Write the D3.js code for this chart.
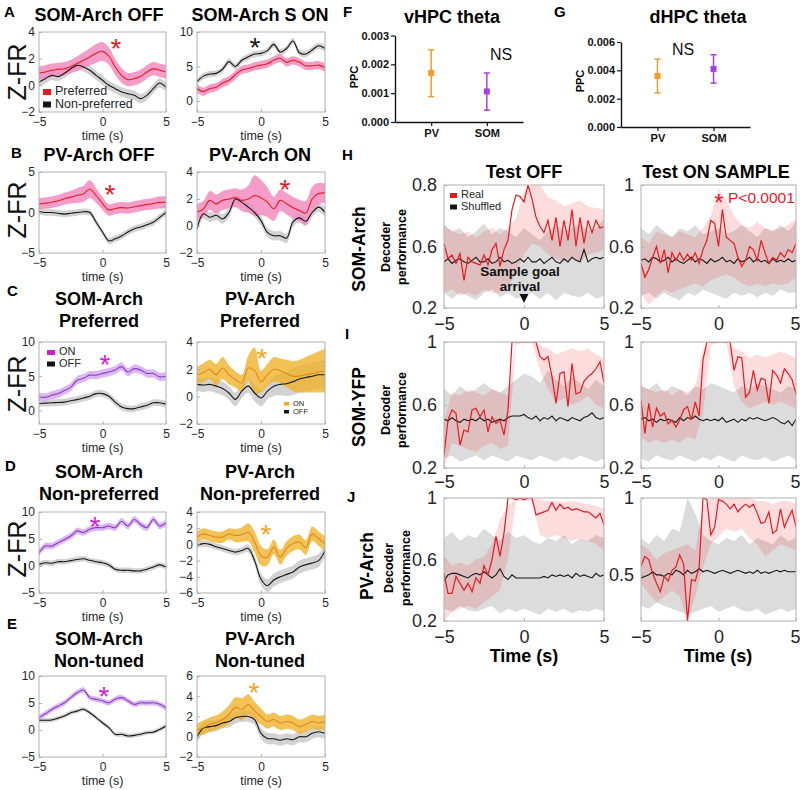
<!DOCTYPE html>
<html><head><meta charset="utf-8">
<script src="https://cdn.jsdelivr.net/npm/d3@7"></script>
<style>body{margin:0;background:#fff} svg{display:block}</style>
</head><body><svg id="fig" width="800" height="790"></svg>
<script>
// ================= DATA =================
const timeTicks = [-5, 0, 5];
// ---- single-neuron Z-FR traces, t = -5..5 s every 0.5 s ----
const somOffPrefMean = [0.92,1.0,1.13,1.2,1.25,1.4,1.63,1.88,2.13,2.4,2.55,2.2,1.38,0.75,0.43,0.5,0.68,1.0,1.25,1.13,1.0];
const somOffPrefSem  = [0.5,0.5,0.5,0.5,0.5,0.5,0.55,0.6,0.65,0.7,0.7,0.65,0.6,0.55,0.5,0.5,0.5,0.5,0.5,0.5,0.5];
const somOffNonMean  = [0.25,0.5,0.75,0.65,0.9,1.25,1.5,1.38,1.13,0.75,0.38,0.0,-0.25,-0.5,-0.63,-0.75,-1.0,-0.75,-0.25,0.18,-0.15];
const somOffNonSem   = 0.35;
const somSOnPrefMean = [1.8,1.35,1.8,2.0,2.6,3.0,3.8,4.5,4.7,5.0,5.2,5.4,5.9,6.2,5.6,5.9,5.6,5.1,5.1,5.2,4.85];
const somSOnPrefSem  = 0.6;
const somSOnNonMean  = [2.8,3.6,3.9,4.0,4.6,5.7,5.0,5.9,6.4,6.8,6.9,7.3,8.2,7.1,7.6,8.7,7.0,6.8,7.4,8.0,7.6];
const somSOnNonSem   = 0.45;
const pvOffPrefMean  = [1.07,1.15,1.27,1.45,1.7,1.9,2.1,2.3,2.9,2.1,1.1,0.3,0.5,0.6,0.55,0.7,0.85,1.0,1.1,1.25,1.25];
const pvOffPrefSem   = [0.7,0.7,0.7,0.7,0.75,0.8,0.9,1.0,1.1,0.9,0.8,0.7,0.7,0.7,0.7,0.7,0.7,0.7,0.7,0.75,0.75];
const pvOffNonMean   = [0.12,0.0,0.0,-0.1,-0.2,-0.1,0.0,0.1,0.0,-1.2,-2.4,-3.5,-3.25,-2.9,-2.4,-2.0,-1.8,-1.5,-1.2,-0.6,0.0];
const pvOffNonSem    = 0.4;
const pvOnPrefMean   = [1.02,1.27,1.9,1.64,1.9,2.0,2.1,1.9,2.0,2.26,2.1,1.77,1.27,1.9,1.65,1.35,1.15,0.95,2.0,2.4,2.45];
const pvOnPrefSem    = [0.6,0.6,0.7,0.7,0.7,0.7,0.7,0.8,1.0,1.5,1.3,1.1,0.9,0.8,0.8,0.8,0.8,0.9,0.9,0.8,0.7];
const pvOnNonMean    = [-0.2,0.9,0.65,0.8,0.52,1.0,2.0,1.77,1.4,1.0,0.4,-0.47,-0.72,-0.72,-0.9,0.3,0.6,0.35,1.0,1.4,1.0];
const pvOnNonSem     = 0.35;
const somPrefOnMean  = [1.96,1.9,2.2,2.45,2.9,3.4,4.4,4.7,5.15,5.15,5.4,5.6,5.9,6.4,5.6,6.1,5.9,5.4,5.4,4.9,5.0];
const somPrefOnSem   = 0.6;
const somPrefOffMean = [1.0,1.05,1.1,1.15,1.2,1.4,1.57,1.8,2.06,2.45,2.45,2.06,1.2,0.5,0.25,0.25,0.5,0.73,1.1,1.1,0.9];
const somPrefOffSem  = 0.5;
const pvPrefOnMean   = [1.6,1.75,2.0,1.6,2.1,1.6,1.26,1.0,2.1,1.9,1.1,1.6,2.0,1.9,1.7,1.5,1.5,1.6,1.7,1.8,1.9];
const pvPrefOnSem    = [0.6,0.7,0.7,0.8,0.8,0.7,0.6,0.6,0.9,1.7,0.8,0.8,0.9,0.9,1.0,1.1,1.2,1.3,1.4,1.5,1.6];
const pvPrefOffMean  = [0.9,0.85,0.9,0.77,0.6,0.27,-0.2,0.4,0.77,0.27,-0.1,0.4,0.77,0.9,0.95,1.1,1.3,1.4,1.5,1.6,1.6];
const pvPrefOffSem   = [0.5,0.5,0.5,0.5,0.5,0.5,0.5,0.5,0.5,0.6,0.6,0.6,0.7,0.8,0.9,1.0,1.0,1.0,1.0,1.0,1.0];
const somNonOnMean   = [2.46,3.7,3.7,4.3,4.9,5.55,6.5,6.2,6.8,7.1,7.1,7.4,7.1,8.3,7.4,8.6,7.7,7.1,8.6,7.4,8.0];
const somNonOnSem    = 0.6;
const somNonOffMean  = [0.3,0.6,0.5,0.8,0.8,1.0,1.2,1.35,1.05,0.8,0.6,0.2,-0.6,-0.8,-0.8,-0.9,-0.9,-0.6,-0.2,0.2,-0.2];
const somNonOffSem   = 0.5;
const pvNonOnMean    = [0.9,1.3,1.1,0.9,0.9,1.3,1.1,1.2,1.5,0.3,-1.4,-1.6,-0.3,-1.6,-0.5,0.1,0.3,-0.4,1.3,0.7,0.1];
const pvNonOnSem     = [0.7,0.7,0.7,0.7,0.7,0.7,0.8,0.9,1.1,1.3,1.2,1.0,0.9,0.9,0.9,0.9,0.9,0.9,0.9,0.9,0.9];
const pvNonOffMean   = [-0.1,0.1,0.0,-0.3,-0.5,-0.75,-0.95,-0.75,-0.5,-2.0,-4.3,-5.1,-4.4,-4.0,-3.7,-3.4,-2.8,-2.5,-2.3,-2.0,-0.8];
const pvNonOffSem    = [0.4,0.4,0.4,0.4,0.4,0.4,0.4,0.4,0.5,0.6,0.7,0.8,0.8,0.8,0.8,0.8,0.8,0.8,0.8,0.8,0.8];
const somUnOnMean    = [2.3,3.0,3.8,4.4,5.05,6.0,6.9,7.4,6.0,5.7,5.4,5.05,5.7,6.0,5.4,4.75,5.05,5.0,5.05,4.75,4.1];
const somUnOnSem     = 0.5;
const somUnOffMean   = [1.8,1.8,1.85,2.2,2.6,3.2,3.5,3.85,3.2,2.3,1.35,0.43,-0.8,-0.8,-1.1,-1.0,-0.8,-0.5,-0.4,0.1,0.74];
const somUnOffSem    = 0.4;
const pvUnOnMean     = [0.7,0.9,1.2,1.4,1.7,2.2,2.9,2.7,3.2,2.55,2.0,1.5,1.7,1.36,1.5,1.36,1.0,1.2,1.5,1.36,1.5];
const pvUnOnSem      = [0.6,0.7,0.7,0.7,0.8,0.9,1.0,1.1,1.0,0.9,0.8,0.7,0.7,0.7,0.7,0.7,0.7,0.7,0.7,0.7,0.7];
const pvUnOffMean    = [0.0,0.85,1.0,1.1,1.36,1.5,1.87,2.0,2.0,1.7,0.34,-0.17,-0.2,-0.34,-0.2,-0.3,0.0,0.0,0.34,0.5,0.34];
const pvUnOffSem     = 0.55;

// ---- PPC (F, G) ----
const ppcGroups = ["PV", "SOM"];
const vhpcMean = [0.0017, 0.00106], vhpcLow = [0.00088, 0.00041], vhpcHigh = [0.0025, 0.0017];
const vhpcTicks = [0, 0.001, 0.002, 0.003];
const dhpcMean = [0.0036, 0.0041], dhpcLow = [0.0024, 0.0031], dhpcHigh = [0.0048, 0.0051];
const dhpcTicks = [0, 0.002, 0.004, 0.006];

// ---- decoder performance: lines t=-5..5 every 0.25 s, bands every 0.5 s ----
const hOffReal = [0.62,0.52,0.545,0.49,0.555,0.38,0.53,0.5,0.49,0.48,0.545,0.48,0.58,0.62,0.47,0.58,0.64,0.84,0.935,0.925,0.89,1.0,0.91,0.79,0.73,0.69,0.77,0.64,0.79,0.6,0.77,0.64,0.84,0.6,0.79,0.62,0.77,0.69,0.77,0.72,0.73];
const hOffShuf = [0.50,0.52,0.49,0.51,0.52,0.50,0.49,0.51,0.53,0.50,0.50,0.52,0.49,0.50,0.53,0.50,0.51,0.49,0.50,0.52,0.50,0.53,0.50,0.50,0.52,0.49,0.51,0.53,0.50,0.49,0.52,0.50,0.53,0.51,0.50,0.58,0.50,0.52,0.53,0.52,0.53];
const hOffGrayHi = [0.74,0.70,0.72,0.66,0.70,0.75,0.68,0.72,0.70,0.66,0.72,0.68,0.64,0.70,0.74,0.70,0.72,0.75,0.70,0.72,0.78];
const hOffGrayLo = [0.30,0.26,0.30,0.28,0.25,0.30,0.32,0.27,0.30,0.26,0.28,0.30,0.26,0.30,0.25,0.30,0.28,0.27,0.30,0.26,0.28];
const hOffPinkHi = [0.74,0.70,0.68,0.70,0.66,0.70,0.72,0.68,0.72,0.78,0.96,1.0,1.0,0.92,0.90,0.86,0.88,0.90,0.86,0.85,0.84];
const hOffPinkLo = [0.30,0.32,0.28,0.30,0.28,0.32,0.30,0.30,0.34,0.42,0.55,0.62,0.60,0.55,0.52,0.50,0.52,0.50,0.55,0.56,0.58];

const hOnReal = [0.49,0.40,0.45,0.53,0.60,0.49,0.58,0.43,0.56,0.51,0.56,0.51,0.55,0.51,0.56,0.49,0.58,0.64,0.77,0.75,0.60,0.84,0.66,0.64,0.62,0.53,0.47,0.51,0.60,0.58,0.51,0.64,0.56,0.49,0.53,0.51,0.56,0.53,0.58,0.56,0.62];
const hOnShuf = [0.51,0.52,0.50,0.53,0.52,0.50,0.51,0.53,0.50,0.52,0.50,0.49,0.51,0.53,0.50,0.52,0.51,0.49,0.52,0.50,0.51,0.53,0.50,0.51,0.49,0.52,0.50,0.51,0.53,0.50,0.52,0.50,0.51,0.49,0.52,0.50,0.51,0.50,0.52,0.50,0.51];
const hOnGrayHi = [0.72,0.68,0.74,0.70,0.66,0.72,0.70,0.74,0.68,0.70,0.72,0.68,0.70,0.74,0.70,0.66,0.72,0.70,0.74,0.70,0.76];
const hOnGrayLo = [0.28,0.30,0.26,0.30,0.27,0.25,0.30,0.28,0.32,0.30,0.28,0.26,0.30,0.28,0.30,0.27,0.30,0.28,0.32,0.30,0.30];
const hOnPinkHi = [0.66,0.62,0.70,0.68,0.66,0.70,0.68,0.66,0.72,0.80,0.98,0.90,0.80,0.74,0.72,0.76,0.72,0.70,0.72,0.74,0.78];
const hOnPinkLo = [0.30,0.22,0.28,0.32,0.30,0.32,0.34,0.36,0.34,0.38,0.40,0.42,0.40,0.36,0.34,0.36,0.34,0.36,0.35,0.36,0.40];

const iOffReal = [0.28,0.505,0.568,0.547,0.346,0.441,0.43,0.568,0.579,0.526,0.568,0.43,0.526,0.484,0.505,0.41,0.568,1,1,1,1,1,1,1,0.907,0.886,0.907,0.78,0.61,0.80,0.81,0.59,0.865,0.67,0.68,0.75,0.78,0.80,0.83,0.875,0.74];
const iOffShuf = [0.51,0.50,0.52,0.50,0.49,0.51,0.50,0.51,0.50,0.52,0.50,0.51,0.49,0.50,0.51,0.50,0.52,0.53,0.53,0.53,0.54,0.52,0.51,0.53,0.50,0.52,0.51,0.53,0.50,0.52,0.51,0.50,0.52,0.51,0.50,0.52,0.53,0.55,0.52,0.51,0.52];
const iOffGrayHi = [0.70,0.66,0.72,0.68,0.70,0.74,0.70,0.68,0.72,0.76,0.80,0.78,0.74,0.82,0.76,0.72,0.78,0.74,0.70,0.76,0.72];
const iOffGrayLo = [0.26,0.28,0.24,0.26,0.28,0.25,0.28,0.26,0.24,0.28,0.26,0.25,0.28,0.26,0.24,0.27,0.25,0.28,0.26,0.24,0.26];
const iOffPinkHi = [0.50,0.68,0.66,0.70,0.68,0.66,0.70,0.68,0.66,1.0,1.0,1.0,0.98,0.96,0.92,0.94,0.96,0.94,0.96,0.92,0.90];
const iOffPinkLo = [0.20,0.36,0.34,0.32,0.30,0.34,0.36,0.32,0.34,0.98,1.0,1.0,0.82,0.70,0.62,0.64,0.60,0.62,0.66,0.60,0.58];

const iOnReal = [0.63,0.42,0.61,0.46,0.58,0.53,0.55,0.48,0.505,0.46,0.505,0.57,0.59,0.505,0.62,0.53,0.886,1,1,1,1,1,1,1,0.82,0.907,0.9,0.65,0.68,0.82,0.695,0.77,0.76,0.61,0.82,0.79,0.74,0.83,0.8,0.76,0.67];
const iOnShuf = [0.51,0.52,0.50,0.51,0.49,0.51,0.50,0.51,0.50,0.49,0.52,0.50,0.52,0.51,0.53,0.51,0.50,0.51,0.50,0.51,0.50,0.52,0.49,0.50,0.51,0.49,0.51,0.50,0.52,0.51,0.52,0.51,0.50,0.51,0.52,0.51,0.49,0.48,0.50,0.47,0.51];
const iOnGrayHi = [0.72,0.70,0.74,0.68,0.72,0.70,0.66,0.72,0.70,0.74,0.72,0.70,0.68,0.72,0.70,0.74,0.72,0.70,0.68,0.72,0.70];
const iOnGrayLo = [0.26,0.24,0.28,0.26,0.25,0.28,0.26,0.24,0.27,0.25,0.28,0.26,0.24,0.28,0.26,0.25,0.27,0.24,0.26,0.28,0.25];
const iOnPinkHi = [0.72,0.70,0.68,0.70,0.66,0.70,0.68,0.72,0.95,1.0,1.0,1.0,0.96,0.94,0.90,0.92,0.90,0.92,0.94,0.92,0.90];
const iOnPinkLo = [0.40,0.36,0.38,0.36,0.38,0.36,0.40,0.38,0.55,0.98,1.0,1.0,0.72,0.62,0.58,0.60,0.62,0.60,0.62,0.60,0.58];

const jOffReal = [0.51,0.38,0.38,0.49,0.445,0.40,0.445,0.39,0.48,0.445,0.56,0.5,0.6,0.75,0.62,0.77,1.0,1,0.99,1,0.99,1,1,0.89,0.9,0.91,0.92,0.97,0.92,0.96,0.93,0.94,0.92,0.93,0.92,0.91,0.91,0.89,0.87,0.9,0.825];
const jOffShuf = [0.46,0.50,0.51,0.51,0.50,0.49,0.48,0.50,0.51,0.50,0.52,0.50,0.48,0.50,0.54,0.49,0.47,0.50,0.48,0.48,0.48,0.48,0.48,0.48,0.48,0.49,0.48,0.50,0.49,0.50,0.49,0.50,0.48,0.51,0.49,0.50,0.49,0.48,0.51,0.49,0.50];
const jOffGrayHi = [0.74,0.78,0.72,0.76,0.74,0.80,0.76,0.72,0.78,0.74,0.76,0.72,0.70,0.74,0.72,0.76,0.70,0.74,0.72,0.76,0.74];
const jOffGrayLo = [0.28,0.26,0.30,0.27,0.26,0.28,0.30,0.25,0.28,0.26,0.28,0.26,0.24,0.28,0.26,0.28,0.25,0.27,0.26,0.28,0.26];
const jOffPinkHi = [0.62,0.56,0.58,0.56,0.60,0.62,0.70,0.86,0.95,1.0,1.0,1.0,0.99,0.98,0.98,0.97,0.98,0.97,0.96,0.95,0.93];
const jOffPinkLo = [0.20,0.26,0.28,0.30,0.28,0.32,0.36,0.40,0.60,0.98,0.98,0.98,0.76,0.74,0.76,0.74,0.72,0.74,0.72,0.70,0.66];

const jOnReal = [0.56,0.62,0.6,0.51,0.445,0.39,0.49,0.46,0.53,0.55,0.63,0.57,0.2,0.47,0.46,0.55,1.0,0.99,0.76,0.81,0.99,0.98,0.96,0.93,0.96,0.91,0.94,0.96,0.94,0.96,0.9,0.835,0.845,0.91,0.77,0.79,0.93,0.81,0.87,0.92,0.81];
const jOnShuf = [0.48,0.49,0.50,0.52,0.50,0.50,0.49,0.51,0.50,0.53,0.52,0.50,0.53,0.51,0.52,0.54,0.52,0.53,0.52,0.51,0.52,0.53,0.52,0.51,0.52,0.53,0.52,0.51,0.52,0.51,0.53,0.51,0.52,0.51,0.52,0.53,0.52,0.53,0.52,0.52,0.52];
const jOnGrayHi = [0.74,0.70,0.76,0.72,0.80,0.78,1.0,0.90,0.76,0.72,0.70,0.74,0.72,0.76,0.70,0.74,0.72,0.70,0.76,0.72,0.74];
const jOnGrayLo = [0.30,0.28,0.32,0.30,0.28,0.26,0.24,0.26,0.28,0.30,0.26,0.28,0.30,0.27,0.26,0.28,0.24,0.26,0.28,0.26,0.28];
const jOnPinkHi = [0.70,0.66,0.60,0.64,0.66,0.68,0.70,0.66,0.95,1.0,1.0,1.0,1.0,1.0,1.0,0.98,0.98,0.96,0.98,0.98,0.96];
const jOnPinkLo = [0.44,0.38,0.32,0.36,0.40,0.36,0.20,0.36,0.55,0.70,0.75,0.80,0.78,0.80,0.74,0.70,0.62,0.66,0.70,0.68,0.66];

const decTicksStd = [0.2, 0.6, 1];
const decLabelsStd = ["0.2", "0.6", "1"];
const decLabelsHOff = ["0.2", "0.6", "0.8"];
const decTicksJOn = [0.5, 1];
const decLabelsJOn = ["0.5", "1"];

// ================= STYLE / LAYOUT =================
const FONT = '"Liberation Sans", Arial, Helvetica, sans-serif';
const RED = "#e8191f", PINK = "#f38cbf", BLACK = "#161616", GRAYB = "#cdcdcd";
const PURPLE = "#8c3bc2", LAV = "#d6aff0", ORANGE = "#e0891c", GOLD = "#f0b32c";
const MAGENTA = "#d21ed2", ORANGE_AST = "#f6a21e";
const FRAME = "#b0b0b0", TXT = "#262626";
const kinds = {
  k:      {line: BLACK,  band: GRAYB, op: 0.9},
  red:    {line: RED,    band: PINK,  op: 0.85},
  purple: {line: PURPLE, band: LAV,   op: 0.9},
  orange: {line: ORANGE, band: GOLD,  op: 0.8}
};
const colX = {L: [39, 166], R: [197, 325]};
const rowY = {A: [32, 112], B: [172, 253], C: [342, 424], D: [512, 593], E: [676, 757]};
const titleBase = {A: [21], B: [161], C: [305, 327], D: [478, 500], E: [645, 667]};
const titleCx = {L: 99, R: 260};

const svg = d3.select("#fig");
let clipN = 0;
function clip(x0, y0, x1, y1) {
  const id = "cl" + (clipN++);
  svg.append("clipPath").attr("id", id).append("rect")
    .attr("x", x0).attr("y", y0).attr("width", x1 - x0).attr("height", y1 - y0);
  return id;
}
function txt(x, y, s, o = {}) {
  const t = svg.append("text").attr("x", x).attr("y", y).text(s)
    .style("font-family", FONT).style("font-size", (o.size || 12) + "px")
    .style("font-weight", o.weight || "normal")
    .attr("fill", o.fill || "#000").attr("text-anchor", o.anchor || "start");
  if (o.rotate) t.attr("transform", `rotate(-90,${x},${y})`);
  return t;
}
function grid(n) { return d3.range(n).map(i => -5 + 10 * i / (n - 1)); }
function styleAxis(g, size, weight) {
  g.selectAll("text").style("font-family", FONT).style("font-size", size + "px")
    .style("font-weight", weight || "normal").attr("fill", TXT);
}

// ================= NEURON PANELS =================
function neuronPanel(p) {
  const [x0, x1] = colX[p.col], [y0, y1] = rowY[p.row];
  const x = d3.scaleLinear().domain([-5, 5]).range([x0, x1]);
  const y = d3.scaleLinear().domain(p.yDomain).range([y1, y0]);
  const g = svg.append("g").attr("clip-path", `url(#${clip(x0, y0, x1, y1)})`);
  const curve = d3.curveCatmullRom.alpha(0.5);
  p.traces.forEach(tr => {
    const ts = grid(tr.mean.length);
    const s = i => Array.isArray(tr.sem) ? tr.sem[i] : tr.sem;
    const pts = tr.mean.map((m, i) => ({t: ts[i], lo: m - s(i), hi: m + s(i)}));
    g.append("path").datum(pts)
      .attr("d", d3.area().x(d => x(d.t)).y0(d => y(d.lo)).y1(d => y(d.hi)).curve(curve))
      .attr("fill", kinds[tr.kind].band).attr("fill-opacity", kinds[tr.kind].op);
  });
  p.traces.forEach(tr => {
    const ts = grid(tr.mean.length);
    g.append("path").datum(tr.mean.map((m, i) => ({t: ts[i], m})))
      .attr("d", d3.line().x(d => x(d.t)).y(d => y(d.m)).curve(curve))
      .attr("fill", "none").attr("stroke", kinds[tr.kind].line).attr("stroke-width", 1.1);
  });
  svg.append("rect").attr("x", x0).attr("y", y0).attr("width", x1 - x0).attr("height", y1 - y0)
    .attr("fill", "none").attr("stroke", FRAME).attr("stroke-width", 1);
  const ya = svg.append("g").attr("transform", `translate(${x0},0)`)
    .call(d3.axisLeft(y).tickValues(p.yTicks).tickSizeInner(-3).tickSizeOuter(0).tickPadding(4).tickFormat(d3.format("d")));
  const xa = svg.append("g").attr("transform", `translate(0,${y1})`)
    .call(d3.axisBottom(x).tickValues(timeTicks).tickSizeInner(-3).tickSizeOuter(0).tickPadding(5).tickFormat(d3.format("d")));
  [ya, xa].forEach(a => { a.select(".domain").remove(); a.selectAll("line").attr("stroke", FRAME); styleAxis(a, 12); });
  txt((x0 + x1) / 2, y1 + 28, "time (s)", {size: 12.5, anchor: "middle", fill: TXT});
  p.title.forEach((s, i) => txt(titleCx[p.col], titleBase[p.row][i], s, {size: 18, weight: "bold", anchor: "middle"}));
  if (p.star) txt(p.star.x, p.star.y + 16, "*", {size: 28, anchor: "middle", fill: p.star.color});
}

const neuronPanels = [
  {col: "L", row: "A", title: ["SOM-Arch OFF"], yDomain: [-2, 4], yTicks: [-2, 0, 2, 4],
   traces: [{mean: somOffNonMean, sem: somOffNonSem, kind: "k"}, {mean: somOffPrefMean, sem: somOffPrefSem, kind: "red"}],
   star: {x: 116, y: 42, color: RED}},
  {col: "R", row: "A", title: ["SOM-Arch S ON"], yDomain: [-1.6, 10], yTicks: [0, 5, 10],
   traces: [{mean: somSOnNonMean, sem: somSOnNonSem, kind: "k"}, {mean: somSOnPrefMean, sem: somSOnPrefSem, kind: "red"}],
   star: {x: 255, y: 41, color: BLACK}},
  {col: "L", row: "B", title: ["PV-Arch OFF"], yDomain: [-5, 5], yTicks: [-5, 0, 5],
   traces: [{mean: pvOffNonMean, sem: pvOffNonSem, kind: "k"}, {mean: pvOffPrefMean, sem: pvOffPrefSem, kind: "red"}],
   star: {x: 110, y: 188, color: RED}},
  {col: "R", row: "B", title: ["PV-Arch ON"], yDomain: [-2, 4], yTicks: [-2, 0, 2, 4],
   traces: [{mean: pvOnNonMean, sem: pvOnNonSem, kind: "k"}, {mean: pvOnPrefMean, sem: pvOnPrefSem, kind: "red"}],
   star: {x: 285, y: 183, color: RED}},
  {col: "L", row: "C", title: ["SOM-Arch", "Preferred"], yDomain: [-2, 10], yTicks: [0, 5, 10],
   traces: [{mean: somPrefOffMean, sem: somPrefOffSem, kind: "k"}, {mean: somPrefOnMean, sem: somPrefOnSem, kind: "purple"}],
   star: {x: 105, y: 358, color: MAGENTA}},
  {col: "R", row: "C", title: ["PV-Arch", "Preferred"], yDomain: [-2, 4], yTicks: [-2, 0, 2, 4],
   traces: [{mean: pvPrefOffMean, sem: pvPrefOffSem, kind: "k"}, {mean: pvPrefOnMean, sem: pvPrefOnSem, kind: "orange"}],
   star: {x: 262, y: 352, color: ORANGE_AST}},
  {col: "L", row: "D", title: ["SOM-Arch", "Non-preferred"], yDomain: [-5, 10], yTicks: [-5, 0, 5, 10],
   traces: [{mean: somNonOffMean, sem: somNonOffSem, kind: "k"}, {mean: somNonOnMean, sem: somNonOnSem, kind: "purple"}],
   star: {x: 95, y: 520, color: MAGENTA}},
  {col: "R", row: "D", title: ["PV-Arch", "Non-preferred"], yDomain: [-6, 4], yTicks: [-6, -4, -2, 0, 2, 4],
   traces: [{mean: pvNonOffMean, sem: pvNonOffSem, kind: "k"}, {mean: pvNonOnMean, sem: pvNonOnSem, kind: "orange"}],
   star: {x: 266, y: 528, color: ORANGE_AST}},
  {col: "L", row: "E", title: ["SOM-Arch", "Non-tuned"], yDomain: [-5, 10], yTicks: [-5, 0, 5, 10],
   traces: [{mean: somUnOffMean, sem: somUnOffSem, kind: "k"}, {mean: somUnOnMean, sem: somUnOnSem, kind: "purple"}],
   star: {x: 104, y: 690, color: MAGENTA}},
  {col: "R", row: "E", title: ["PV-Arch", "Non-tuned"], yDomain: [-2, 6], yTicks: [-2, 0, 2, 4, 6],
   traces: [{mean: pvUnOffMean, sem: pvUnOffSem, kind: "k"}, {mean: pvUnOnMean, sem: pvUnOnSem, kind: "orange"}],
   star: {x: 254, y: 686, color: ORANGE_AST}}
];
neuronPanels.forEach(neuronPanel);

// legends in A and C
function legendItem(x, y, color, label, size, w, h) {
  svg.append("rect").attr("x", x).attr("y", y - h).attr("width", w).attr("height", h).attr("fill", color);
  txt(x + w + 4, y, label, {size: size, fill: TXT});
}
legendItem(43, 95, RED, "Preferred", 12.5, 8, 6);
legendItem(43, 107.5, BLACK, "Non-preferred", 12.5, 8, 6);
legendItem(47, 355, MAGENTA, "ON", 11, 8, 5);
legendItem(47, 366.5, BLACK, "OFF", 11, 8, 5);
legendItem(284, 405.5, "#f5a623", "ON", 7.5, 5, 3.5);
legendItem(284, 413.5, BLACK, "OFF", 7.5, 5, 3.5);

// Z-FR labels and letters
[72, 210, 384, 549].forEach(cy => txt(26, cy, "Z-FR", {size: 25, anchor: "middle", rotate: true, fill: "#111"}));
[["A", 4, 17], ["B", 11, 158], ["C", 7, 296], ["D", 5, 471], ["E", 7, 629],
 ["F", 343, 17], ["G", 554, 17], ["H", 342, 160], ["I", 345, 339], ["J", 347, 502]]
  .forEach(([s, x, y]) => txt(x, y, s, {size: 15, weight: "bold"}));

// ================= PPC PANELS F, G =================
function ppcPanel(p) {
  const x = d3.scalePoint().domain(ppcGroups).range([p.x0, p.x1]).padding(0.65);
  const y = d3.scaleLinear().domain([0, p.ymax]).range([p.y0, p.ytop]);
  const ya = svg.append("g").attr("transform", `translate(${p.x0},0)`)
    .call(d3.axisLeft(y).tickValues(p.ticks).tickFormat(d3.format(".3f")).tickSize(4).tickSizeOuter(0).tickPadding(2));
  const xa = svg.append("g").attr("transform", `translate(0,${p.y0})`)
    .call(d3.axisBottom(x).tickSize(4).tickSizeOuter(0).tickPadding(3));
  [ya, xa].forEach(a => {
    a.selectAll(".domain").attr("stroke", "#111").attr("stroke-width", 1.4);
    a.selectAll("line").attr("stroke", "#111").attr("stroke-width", 1.2);
    styleAxis(a, 11, "bold");
    a.selectAll("text").attr("fill", "#111");
  });
  const colors = ["#f39a2b", "#a83ee0"];
  ppcGroups.forEach((gname, i) => {
    const cx = x(gname);
    svg.append("line").attr("x1", cx).attr("x2", cx).attr("y1", y(p.low[i])).attr("y2", y(p.high[i]))
      .attr("stroke", colors[i]).attr("stroke-width", 1.5);
    [p.low[i], p.high[i]].forEach(v => svg.append("line").attr("x1", cx - 3).attr("x2", cx + 3)
      .attr("y1", y(v)).attr("y2", y(v)).attr("stroke", colors[i]).attr("stroke-width", 1.5));
    svg.append("rect").attr("x", cx - 3).attr("y", y(p.mean[i]) - 3).attr("width", 6).attr("height", 6).attr("fill", colors[i]);
  });
  txt(p.titleX, 23, p.title, {size: 18, weight: "bold", anchor: "middle"});
  txt(p.ppcX, p.ppcY, "PPC", {size: 11, weight: "bold", anchor: "middle", rotate: true});
  txt(p.nsX, p.nsY, "NS", {size: 16, anchor: "middle", fill: "#111"});
}
ppcPanel({x0: 395, x1: 523, y0: 122, ytop: 35.5, ymax: 0.003, ticks: vhpcTicks, mean: vhpcMean, low: vhpcLow, high: vhpcHigh,
  title: "vHPC theta", titleX: 452, ppcX: 358, ppcY: 77, nsX: 501, nsY: 60});
ppcPanel({x0: 621, x1: 750, y0: 127, ytop: 42, ymax: 0.006, ticks: dhpcTicks, mean: dhpcMean, low: dhpcLow, high: dhpcHigh,
  title: "dHPC theta", titleX: 698, ppcX: 584, ppcY: 81, nsX: 683, nsY: 55});

// ================= DECODER PANELS H, I, J =================
const decCols = {L: [444, 604], R: [641, 796]};
const decRows = {H: [185, 308], I: [342, 468], J: [498, 621]};
function decoderPanel(p) {
  const [x0, x1] = decCols[p.col], [y0, y1] = decRows[p.row];
  const x = d3.scaleLinear().domain([-5, 5]).range([x0, x1]);
  const y = d3.scaleLinear().domain([0.2, 1]).range([y1, y0]);
  const g = svg.append("g").attr("clip-path", `url(#${clip(x0, y0, x1, y1)})`);
  const bandPts = (lo, hi) => { const ts = grid(lo.length); return lo.map((l, i) => ({t: ts[i], lo: l, hi: hi[i]})); };
  const area = d3.area().x(d => x(d.t)).y0(d => y(d.lo)).y1(d => y(d.hi));
  g.append("path").datum(bandPts(p.grayLo, p.grayHi)).attr("d", area).attr("fill", "#dcdcdc");
  g.append("path").datum(bandPts(p.pinkLo, p.pinkHi)).attr("d", area).attr("fill", "rgb(235,40,40)").attr("fill-opacity", 0.16);
  const line = d3.line().x(d => x(d.t)).y(d => y(d.v));
  const linePts = arr => { const ts = grid(arr.length); return arr.map((v, i) => ({t: ts[i], v})); };
  g.append("path").datum(linePts(p.shuf)).attr("d", line).attr("fill", "none").attr("stroke", BLACK).attr("stroke-width", 1.1);
  g.append("path").datum(linePts(p.real)).attr("d", line).attr("fill", "none").attr("stroke", RED).attr("stroke-width", 1.2);
  svg.append("rect").attr("x", x0).attr("y", y0).attr("width", x1 - x0).attr("height", y1 - y0)
    .attr("fill", "none").attr("stroke", FRAME).attr("stroke-width", 1);
  const ya = svg.append("g").attr("transform", `translate(${x0},0)`)
    .call(d3.axisLeft(y).tickValues(p.ticks).tickSizeInner(-3).tickSizeOuter(0).tickPadding(7).tickFormat((d, i) => p.labels[i]));
  const xa = svg.append("g").attr("transform", `translate(0,${y1})`)
    .call(d3.axisBottom(x).tickValues(timeTicks).tickSizeInner(-3).tickSizeOuter(0).tickPadding(p.row === "I" ? 7 : 9).tickFormat(d3.format("d")));
  [ya, xa].forEach(a => { a.select(".domain").remove(); a.selectAll("line").attr("stroke", FRAME); styleAxis(a, 18); });
  if (p.col === "R") {
    // keep the last tick label inside the page, as in the reference it sits at the right edge
    xa.selectAll(".tick").filter(d => d === 5).select("text").attr("text-anchor", "end").attr("x", 4);
  }
}
const decoderPanels = [
  {col: "L", row: "H", real: hOffReal, shuf: hOffShuf, grayLo: hOffGrayLo, grayHi: hOffGrayHi, pinkLo: hOffPinkLo, pinkHi: hOffPinkHi, ticks: decTicksStd, labels: decLabelsHOff},
  {col: "R", row: "H", real: hOnReal, shuf: hOnShuf, grayLo: hOnGrayLo, grayHi: hOnGrayHi, pinkLo: hOnPinkLo, pinkHi: hOnPinkHi, ticks: decTicksStd, labels: decLabelsStd},
  {col: "L", row: "I", real: iOffReal, shuf: iOffShuf, grayLo: iOffGrayLo, grayHi: iOffGrayHi, pinkLo: iOffPinkLo, pinkHi: iOffPinkHi, ticks: decTicksStd, labels: decLabelsStd},
  {col: "R", row: "I", real: iOnReal, shuf: iOnShuf, grayLo: iOnGrayLo, grayHi: iOnGrayHi, pinkLo: iOnPinkLo, pinkHi: iOnPinkHi, ticks: decTicksStd, labels: decLabelsStd},
  {col: "L", row: "J", real: jOffReal, shuf: jOffShuf, grayLo: jOffGrayLo, grayHi: jOffGrayHi, pinkLo: jOffPinkLo, pinkHi: jOffPinkHi, ticks: decTicksStd, labels: decLabelsStd},
  {col: "R", row: "J", real: jOnReal, shuf: jOnShuf, grayLo: jOnGrayLo, grayHi: jOnGrayHi, pinkLo: jOnPinkLo, pinkHi: jOnPinkHi, ticks: decTicksJOn, labels: decLabelsJOn}
];
decoderPanels.forEach(decoderPanel);

// decoder titles and labels
txt(524, 178, "Test OFF", {size: 18, weight: "bold", anchor: "middle"});
txt(716, 178, "Test ON SAMPLE", {size: 18, weight: "bold", anchor: "middle"});
[["SOM-Arch", 365, 249, 390, 406, 247], ["SOM-YFP", 365, 407, 390, 406, 410], ["PV-Arch", 373, 566, 393, 410, 568]]
  .forEach(([name, nx, ny, dx, px, cy]) => {
    txt(nx, ny, name, {size: 17.5, weight: "bold", anchor: "middle", rotate: true});
    txt(dx, cy, "Decoder", {size: 12.5, weight: "bold", anchor: "middle", rotate: true});
    txt(px, cy, "performance", {size: 12.5, weight: "bold", anchor: "middle", rotate: true});
  });
legendItem(450, 198, RED, "Real", 11, 7, 5);
legendItem(450, 209.5, BLACK, "Shuffled", 11, 7, 5);
txt(520, 276, "Sample goal", {size: 13.5, weight: "bold", anchor: "middle", fill: "#111"});
txt(520, 291, "arrival", {size: 13.5, weight: "bold", anchor: "middle", fill: "#111"});
{
  const xs = d3.scaleLinear().domain([-5, 5]).range(decCols.L);
  const cx = xs(0);
  svg.append("path").attr("d", `M${cx - 4.5},294 L${cx + 4.5},294 L${cx},303 Z`).attr("fill", "#111");
}
txt(719, 197 + 14, "*", {size: 24, anchor: "middle", fill: RED});
txt(728, 203, "P<0.0001", {size: 15.5, fill: RED});
txt(524, 662, "Time (s)", {size: 18, weight: "bold", anchor: "middle"});
txt(718, 662, "Time (s)", {size: 18, weight: "bold", anchor: "middle"});
</script>
</body></html>
